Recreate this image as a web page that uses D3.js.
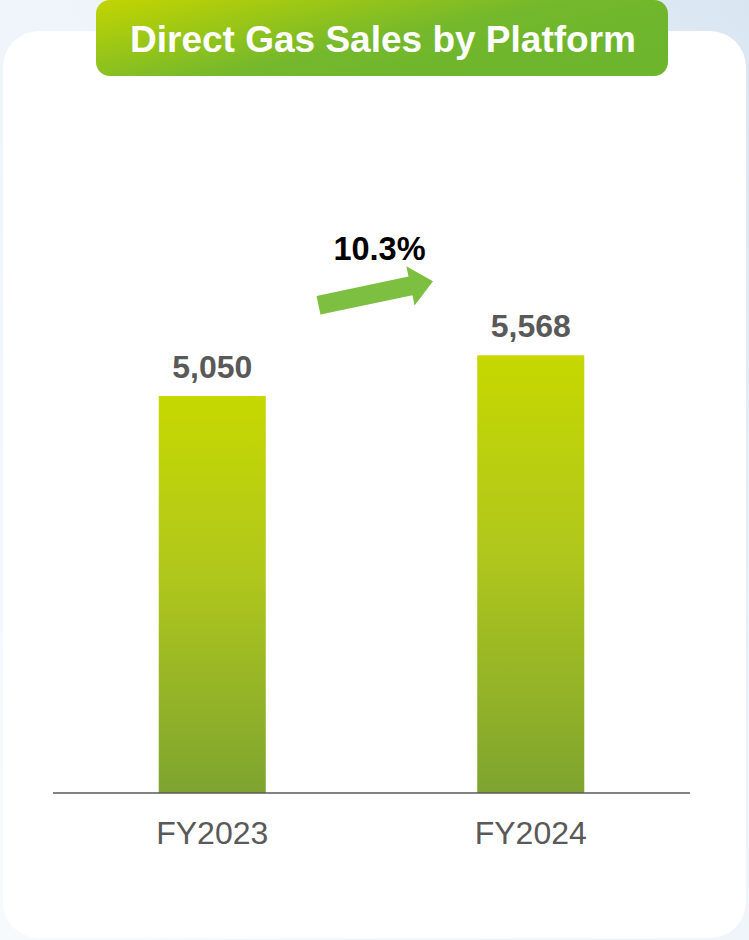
<!DOCTYPE html>
<html>
<head>
<meta charset="utf-8">
<script src="https://cdn.jsdelivr.net/npm/d3@7.9.0/dist/d3.min.js"></script>
<style>
  html, body { margin: 0; padding: 0; background: #fff; }
  svg { display: block; font-family: "Liberation Sans", Arial, sans-serif; }
</style>
</head>
<body>
<svg id="chart" width="749" height="940"></svg>
<script>
const title = 'Direct Gas Sales by Platform';
const categories = ['FY2023', 'FY2024'];
const values = [5050, 5568];
const growthLabel = '10.3%';

const width = 749;
const height = 940;
const baseline = 793;

const svg = d3.select('#chart');
const defs = svg.append('defs');

// backdrop: faint blue wash behind the card
const bg = defs.append('linearGradient')
  .attr('id', 'bg-grad')
  .attr('x1', 0).attr('y1', 1).attr('x2', 1).attr('y2', 0);
bg.append('stop').attr('offset', '0%').attr('stop-color', '#f7fafd');
bg.append('stop').attr('offset', '55%').attr('stop-color', '#eef4fa');
bg.append('stop').attr('offset', '100%').attr('stop-color', '#d9e6f2');

const titleGrad = defs.append('linearGradient')
  .attr('id', 'title-grad')
  .attr('x1', 0).attr('y1', 0).attr('x2', 1).attr('y2', 0.6);
titleGrad.append('stop').attr('offset', '0%').attr('stop-color', '#c3d500');
titleGrad.append('stop').attr('offset', '60%').attr('stop-color', '#74b82c');
titleGrad.append('stop').attr('offset', '100%').attr('stop-color', '#6cb52d');

const barGrad = defs.append('linearGradient')
  .attr('id', 'bar-grad')
  .attr('x1', 0).attr('y1', 0).attr('x2', 0).attr('y2', 1);
barGrad.append('stop').attr('offset', '0%').attr('stop-color', '#c6d800');
barGrad.append('stop').attr('offset', '45%').attr('stop-color', '#b0c71c');
barGrad.append('stop').attr('offset', '100%').attr('stop-color', '#7ea42f');

svg.append('rect')
  .attr('width', width).attr('height', height)
  .attr('fill', 'url(#bg-grad)');

// white card
svg.append('rect')
  .attr('x', 3).attr('y', 31)
  .attr('width', 743).attr('height', 907)
  .attr('rx', 36).attr('ry', 36)
  .attr('fill', '#ffffff');

// title pill
svg.append('rect')
  .attr('x', 96).attr('y', 0)
  .attr('width', 572).attr('height', 76)
  .attr('rx', 14).attr('ry', 14)
  .attr('fill', 'url(#title-grad)');

svg.append('text')
  .attr('x', 383).attr('y', 52)
  .attr('text-anchor', 'middle')
  .attr('fill', '#ffffff')
  .attr('font-size', 37)
  .attr('font-weight', 'bold')
  .text(title);

const x = d3.scaleBand()
  .domain(categories)
  .range([53, 690])
  .paddingInner(0.664)
  .paddingOuter(0.332);

const y = d3.scaleLinear()
  .domain([0, 5050])
  .range([baseline, 396]);

svg.selectAll('rect.bar')
  .data(values)
  .join('rect')
  .attr('class', 'bar')
  .attr('x', (d, i) => x(categories[i]))
  .attr('y', (d) => y(d))
  .attr('width', x.bandwidth())
  .attr('height', (d) => baseline - y(d))
  .attr('fill', 'url(#bar-grad)');

// axis line
svg.append('line')
  .attr('x1', 53).attr('x2', 690)
  .attr('y1', baseline).attr('y2', baseline)
  .attr('stroke', '#595959')
  .attr('stroke-width', 1.5);

svg.selectAll('text.value')
  .data(values)
  .join('text')
  .attr('class', 'value')
  .attr('x', (d, i) => x(categories[i]) + x.bandwidth() / 2)
  .attr('y', (d) => y(d) - 18)
  .attr('text-anchor', 'middle')
  .attr('fill', '#595959')
  .attr('font-size', 32)
  .attr('font-weight', 'bold')
  .text((d) => d3.format(',')(d));

svg.selectAll('text.cat')
  .data(categories)
  .join('text')
  .attr('class', 'cat')
  .attr('x', (d) => x(d) + x.bandwidth() / 2)
  .attr('y', 844)
  .attr('text-anchor', 'middle')
  .attr('fill', '#595959')
  .attr('font-size', 32)
  .text((d) => d);

// growth arrow between the two bars
const midX = (x(categories[0]) + x(categories[1]) + x.bandwidth()) / 2;
const arrowG = svg.append('g')
  .attr('transform', `translate(${midX - 53},${y(values[1]) - 50}) rotate(-11.9)`);

arrowG.append('path')
  .attr('d', 'M0,-9.5 L94,-9.5 L94,-20 L117,0 L94,20 L94,9.5 L0,9.5 Z')
  .attr('fill', '#7cbf41');

svg.append('text')
  .attr('x', midX + 8)
  .attr('y', 260)
  .attr('text-anchor', 'middle')
  .attr('fill', '#000000')
  .attr('font-size', 32.5)
  .attr('font-weight', 'bold')
  .text(growthLabel);
</script>
</body>
</html>
